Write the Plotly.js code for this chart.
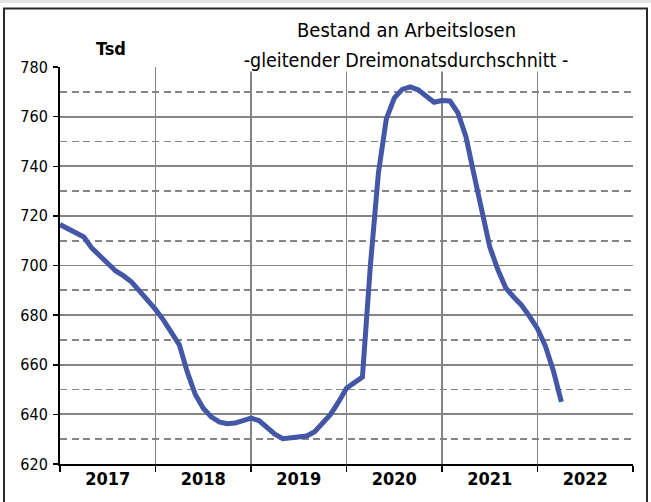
<!DOCTYPE html>
<html>
<head>
<meta charset="utf-8">
<script src="https://cdn.plot.ly/plotly-3.0.1.min.js"></script>
<style>
  html, body { margin: 0; padding: 0; background: #ffffff; }
  #chart { width: 651px; height: 502px; }
</style>
</head>
<body>
<div id="chart"></div>
<script>
// ---- data (monthly, January 2017 onward, thousand persons) ----
const years = ["2017", "2018", "2019", "2020", "2021", "2022"];
const values2017 = [716.5, 715, 713.5, 711.5, 707, 703.7, 700.4, 697.8, 695.8, 693.3, 689.7, 686.1];
const values2018 = [682.3, 678, 673, 668, 657, 648, 642.5, 639, 637, 636.2, 636.5, 637.5];
const values2019 = [638.5, 637.5, 634.5, 632, 630.2, 630.5, 631.2, 631.3, 633, 636.5, 640, 645];
const values2020 = [650.5, 652.8, 655, 700, 737, 759, 767.5, 771, 772, 770.8, 768.2, 765.8];
const values2021 = [766.5, 766.3, 761.5, 752, 737, 722, 707.5, 698.5, 691, 687.3, 684, 679.5];
const values2022 = [674.5, 667.5, 657.5, 645];

const values = [].concat(values2017, values2018, values2019, values2020, values2021, values2022);
const monthIndex = values.map((v, i) => i);
const yearStarts = years.map((y, k) => k * 12);
const yearMids = years.map((y, k) => k * 12 + 6);

const FONT = '"DejaVu Sans Condensed", "Liberation Sans Narrow", "DejaVu Sans", sans-serif';
const GRID = '#858585';

// pixel helpers for paper coords (plot area 60..633 x 67..464)
const L = 60, R = 18, T = 67, B = 38, W = 651, H = 502;
const pw = W - L - R, ph = H - T - B;
const px = x => (x - L) / pw;
const py = y => (H - B - y) / ph;

const trace = {
  x: monthIndex,
  y: values,
  type: 'scatter',
  mode: 'lines',
  line: { color: '#4457a6', width: 5 },
  hoverinfo: 'skip',
  showlegend: false
};

// carrier trace so the year-label axis is drawn (no visible marks)
const labelTrace = {
  x: yearMids,
  y: yearMids.map(() => null),
  xaxis: 'x2',
  yaxis: 'y',
  type: 'scatter',
  mode: 'markers',
  marker: { opacity: 0 },
  hoverinfo: 'skip',
  showlegend: false
};

const layout = {
  width: W,
  height: H,
  margin: { l: L, r: R, t: T, b: B, pad: 0 },
  paper_bgcolor: '#ffffff',
  plot_bgcolor: '#ffffff',
  showlegend: false,
  xaxis: {
    type: 'linear',
    range: [0, 72],
    tickmode: 'array',
    tickvals: yearStarts.concat([72]),
    showticklabels: false,
    ticks: 'outside',
    ticklen: 6,
    tickwidth: 1.5,
    tickcolor: '#000000',
    showgrid: true,
    gridcolor: GRID,
    gridwidth: 1.8,
    showline: true,
    linecolor: '#000000',
    linewidth: 2,
    zeroline: false,
    fixedrange: true
  },
  xaxis2: {
    overlaying: 'x',
    anchor: 'y',
    side: 'bottom',
    type: 'linear',
    range: [0, 72],
    tickmode: 'array',
    tickvals: yearMids,
    ticktext: years,
    ticks: '',
    ticklabelstandoff: 2,
    showticklabels: true,
    showgrid: false,
    showline: false,
    zeroline: false,
    tickfont: { family: FONT, size: 18, color: '#000000', weight: 'bold' },
    fixedrange: true
  },
  yaxis: {
    range: [620, 780],
    tickmode: 'linear',
    tick0: 620,
    dtick: 20,
    ticks: 'outside',
    ticklen: 5,
    tickwidth: 1.5,
    tickcolor: '#000000',
    showgrid: true,
    gridcolor: GRID,
    gridwidth: 1.8,
    minor: {
      tickmode: 'linear',
      tick0: 630,
      dtick: 20,
      showgrid: true,
      gridcolor: GRID,
      gridwidth: 1.8,
      griddash: '7px,4.5px',
      ticks: ''
    },
    showline: true,
    linecolor: '#000000',
    linewidth: 2,
    zeroline: false,
    tickfont: { family: FONT, size: 16, color: '#000000' },
    ticklabelstandoff: 2,
    fixedrange: true
  },
  shapes: [
    { type: 'rect', xref: 'paper', yref: 'paper',
      x0: px(0), x1: px(651), y0: py(3), y1: py(0),
      fillcolor: '#e3e3e3', line: { width: 0 } },
    { type: 'rect', xref: 'paper', yref: 'paper',
      x0: px(4), x1: px(647), y0: py(520), y1: py(8.5),
      fillcolor: 'rgba(0,0,0,0)', line: { color: '#2a2a2a', width: 2 } }
  ],
  annotations: [
    { text: 'Bestand an Arbeitslosen', xref: 'paper', yref: 'paper',
      x: px(406), y: py(30), xanchor: 'center', yanchor: 'middle',
      showarrow: false, font: { family: FONT, size: 20, color: '#000000' } },
    { text: '-gleitender Dreimonatsdurchschnitt -', xref: 'paper', yref: 'paper',
      x: px(406), y: py(60), xanchor: 'center', yanchor: 'middle',
      showarrow: false, bgcolor: '#ffffff', width: 340, height: 22, borderpad: 0,
      font: { family: FONT, size: 19.5, color: '#000000' } },
    { text: '<b>Tsd</b>', xref: 'paper', yref: 'paper',
      x: px(111), y: py(48), xanchor: 'center', yanchor: 'middle',
      showarrow: false, font: { family: FONT, size: 18, color: '#000000' } }
  ]
};

Plotly.newPlot('chart', [trace, labelTrace], layout, { displayModeBar: false, staticPlot: true });
</script>
</body>
</html>
